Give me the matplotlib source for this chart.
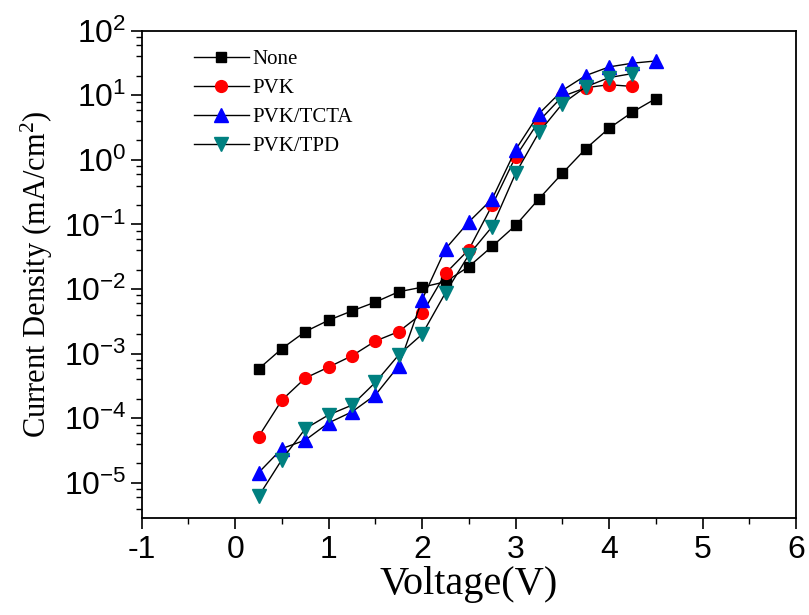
import matplotlib as mpl
mpl.use('Agg')
import matplotlib.pyplot as plt
import matplotlib.ticker as mtick
from matplotlib import font_manager
import numpy as np

# pick a narrow sans for the tick labels if there is one
names = set(f.name for f in font_manager.fontManager.ttflist)
tickfont = 'Liberation Sans Narrow' if 'Liberation Sans Narrow' in names else 'Liberation Sans'
serif = 'Liberation Serif'

mpl.rcParams['axes.unicode_minus'] = False
mpl.rcParams['font.family'] = serif

voltage = [0.25, 0.5, 0.75, 1.0, 1.25, 1.5, 1.75, 2.0, 2.25, 2.5, 2.75,
           3.0, 3.25, 3.5, 3.75, 4.0, 4.25, 4.5]

none_j = [5.8e-4, 1.2e-3, 2.2e-3, 3.3e-3, 4.6e-3, 6.3e-3, 9.1e-3, 1.07e-2,
          1.3e-2, 2.23e-2, 4.6e-2, 0.097, 0.25, 0.62, 1.49, 3.09, 5.5, 8.9]
pvk_j = [5.2e-5, 1.92e-4, 4.2e-4, 6.2e-4, 9.3e-4, 1.57e-3, 2.2e-3, 4.2e-3,
         1.75e-2, 4.1e-2, 0.20, 1.12, 4.0, 9.6, 13.1, 14.6, 13.7]
tcta_j = [1.44e-5, 3.4e-5, 4.6e-5, 8.5e-5, 1.26e-4, 2.3e-4, 6.5e-4, 6.9e-3,
          4.2e-2, 0.11, 0.25, 1.44, 5.2, 11.9, 20.2, 27.5, 31.4, 34.0]
tpd_j = [6.2e-6, 2.3e-5, 6.9e-5, 1.13e-4, 1.6e-4, 3.6e-4, 9.6e-4, 2.0e-3,
         8.8e-3, 3.4e-2, 9.3e-2, 0.62, 2.67, 7.4, 13.5, 18.8, 21.7]

decades = [1e-5, 1e-4, 1e-3, 1e-2, 1e-1, 1e0, 1e1, 1e2]

fig = plt.figure(figsize=(8.09, 6.15), dpi=100)
ax = fig.add_axes([0.1752, 0.1577, 0.8088, 0.7924])

ax.plot(voltage, none_j, c='black', lw=1, marker='s', ms=7.5,
        mfc='black', mec='black', label='None')
ax.plot(voltage[:len(pvk_j)], pvk_j, c='black', lw=1, marker='o', ms=8.5,
        mfc='#ff0000', mec='#ff0000', label='PVK')
ax.plot(voltage, tcta_j, c='black', lw=1, marker='^', ms=9.5,
        mfc='#0000ff', mec='#0000ff', label='PVK/TCTA')
ax.plot(voltage[:len(tpd_j)], tpd_j, c='black', lw=1, marker='v', ms=9.5,
        mfc='#008080', mec='#008080', label='PVK/TPD')

ax.set_yscale('log')
ax.set_xlim(-1, 6)
ax.set_ylim(2.86e-6, 100)

ax.xaxis.set_major_locator(mtick.MultipleLocator(1))
ax.xaxis.set_minor_locator(mtick.MultipleLocator(0.5))
ax.yaxis.set_major_locator(mtick.FixedLocator(decades))
minors = [k * d for d in [1e-6] + decades[:-1] for k in (2, 4, 6, 8)]
minors = [m for m in minors if 2.86e-6 <= m <= 100]
ax.yaxis.set_minor_locator(mtick.FixedLocator(minors))
ax.yaxis.set_minor_formatter(mtick.NullFormatter())
ax.yaxis.set_major_formatter(mtick.FuncFormatter(
    lambda v, p: r'$\mathregular{10^{%d}}$' % round(np.log10(v))))

ax.tick_params(which='both', direction='out', top=False, right=False)
ax.tick_params(which='major', length=8, width=1.2)
ax.tick_params(which='minor', length=4, width=1.0)
for lab in ax.get_xticklabels() + ax.get_yticklabels():
    lab.set_fontfamily(tickfont)
    lab.set_fontsize(23)
ax.tick_params(axis='x', pad=4)
ax.tick_params(axis='y', pad=3)
for s in ax.spines.values():
    s.set_linewidth(1.3)

ax.set_xlabel('Voltage(V)', fontsize=29, labelpad=1)
ax.set_ylabel(r'Current Density (mA/cm$\mathregular{^2}$)', fontsize=22, labelpad=6)

ax.legend(loc='upper left', bbox_to_anchor=(0.055, 0.995), frameon=False,
          fontsize=15, handlelength=2.6, handletextpad=0.2, labelspacing=0.45,
          borderpad=0.3)

fig.savefig('out.png', dpi=100)
